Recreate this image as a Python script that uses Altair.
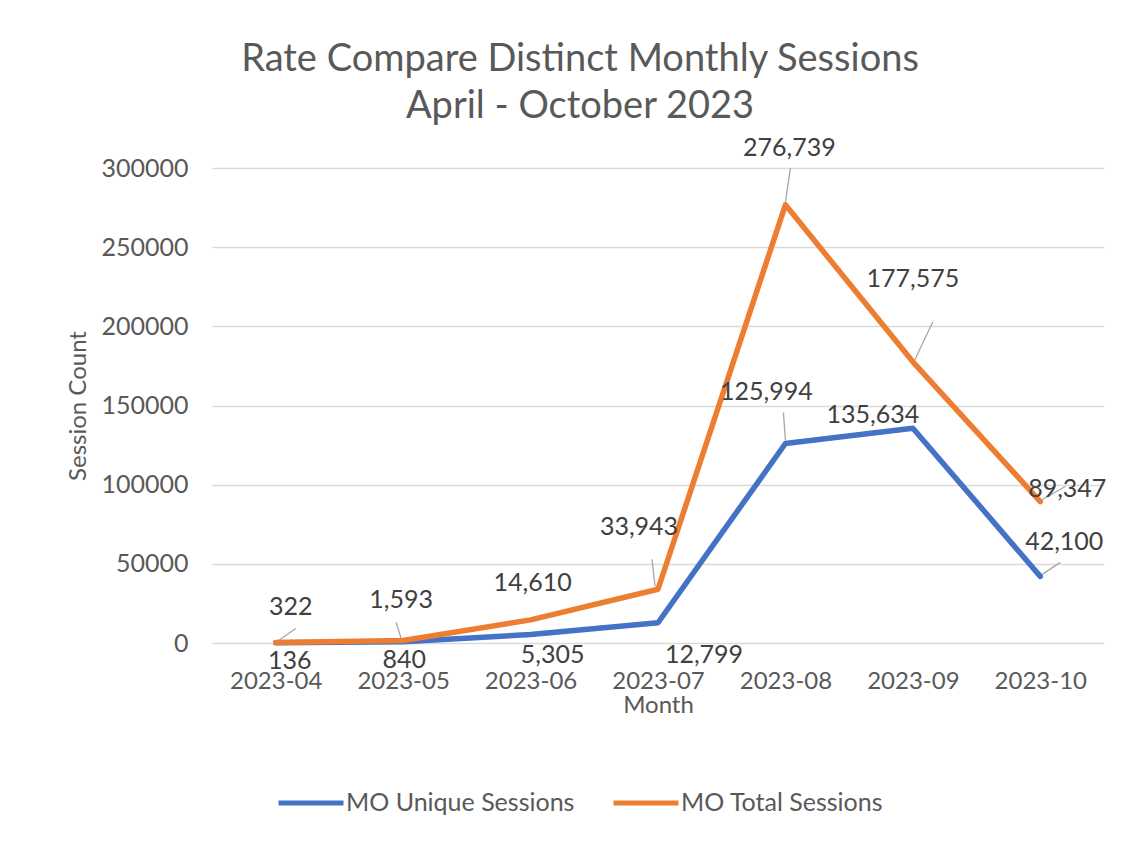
import altair as alt
import pandas as pd

# ---- data ----
months = ["2023-04", "2023-05", "2023-06", "2023-07", "2023-08", "2023-09", "2023-10"]
unique_sessions = [136, 840, 5305, 12799, 125994, 135634, 42100]
total_sessions = [322, 1593, 14610, 33943, 276739, 177575, 89347]
series_names = ["MO Unique Sessions", "MO Total Sessions"]
y_ticks = [0, 50000, 100000, 150000, 200000, 250000, 300000]

# ---- styling: label placement (pixel offsets from each point) ----
unique_label_offsets = [(14, 18), (1, 18), (22, 20), (46, 32), (-19, -52), (-40, -13), (24, -34)]
total_label_offsets = [(15, -35), (-2, -40), (2, -37), (-19, -62), (4, -57), (0, -83), (27, -13)]
# leader lines (x1, y1, x2, y2) pixel offsets from each point
unique_leaders = [None, None, None, None, (0, -3, -2, -31), None, (2, -2, 20, -14)]
total_leaders = [(0, 0, 20, -14), (-2, -2, -7, -18), None, (-3, -3, -6, -30),
                 (0, -3, 5, -37), (2, -2, 20, -40), (2, -2, 25, -15)]

colors = ["#4472C4", "#ED7D31"]
FONT = "Lato"
GRAY = "#595959"

rows = []
for i, m in enumerate(months):
    rows.append({"month": m, "series": series_names[0], "value": unique_sessions[i]})
    rows.append({"month": m, "series": series_names[1], "value": total_sessions[i]})
df = pd.DataFrame(rows)

X_ENC = alt.X(
    "month:O",
    title="Month",
    sort=months,
    scale=alt.Scale(type="point", padding=0.5, domain=months),
    axis=alt.Axis(labelAngle=0, labelFont=FONT, labelFontSize=24, labelColor=GRAY,
                  titleFont=FONT, titleFontSize=24, titleColor=GRAY, titleFontWeight="normal",
                  domain=False, ticks=False, labelPadding=26, titlePadding=0, grid=False),
)
Y_ENC = alt.Y(
    "value:Q",
    title="Session Count",
    scale=alt.Scale(domain=[0, 300000], nice=False),
    axis=alt.Axis(values=y_ticks, format="d", labelFont=FONT, labelFontSize=25, labelColor=GRAY,
                  titleFont=FONT, titleFontSize=24, titleColor=GRAY, titleFontWeight="normal",
                  domain=False, ticks=False, labelPadding=24, titlePadding=10,
                  grid=True, gridColor="#D9D9D9", gridWidth=1.3),
)
COLOR_ENC = alt.Color(
    "series:N",
    scale=alt.Scale(domain=series_names, range=colors),
    legend=alt.Legend(title=None, orient="none", direction="horizontal", legendX=64, legendY=600,
                      symbolType="stroke", symbolSize=4225, symbolStrokeWidth=5,
                      labelFont=FONT, labelFontSize=25, labelColor=GRAY, labelOffset=0,
                      labelLimit=0, columnPadding=28),
)

layers = []

# leader lines
for name, leaders in ((series_names[0], unique_leaders), (series_names[1], total_leaders)):
    for m, ld in zip(months, leaders):
        if ld is None:
            continue
        layers.append(
            alt.Chart(df)
            .transform_filter((alt.datum.series == name) & (alt.datum.month == m))
            .mark_rule(color="#A6A6A6", strokeWidth=1.3,
                       xOffset=ld[0], yOffset=ld[1], x2Offset=ld[2], y2Offset=ld[3])
            .encode(x=X_ENC, x2=alt.X2("month:O"), y=Y_ENC, y2=alt.Y2("value:Q"))
        )

# lines (blue first, orange on top)
for name in series_names:
    layers.append(
        alt.Chart(df)
        .transform_filter(alt.datum.series == name)
        .mark_line(strokeWidth=5.5, strokeJoin="round", strokeCap="round")
        .encode(x=X_ENC, y=Y_ENC, color=COLOR_ENC)
    )

# data labels
for name, offsets in ((series_names[0], unique_label_offsets), (series_names[1], total_label_offsets)):
    for m, (dx, dy) in zip(months, offsets):
        layers.append(
            alt.Chart(df)
            .transform_filter((alt.datum.series == name) & (alt.datum.month == m))
            .mark_text(dx=dx, dy=dy, font=FONT, fontSize=25, color="#404040",
                       align="center", baseline="middle")
            .encode(x=X_ENC, y=Y_ENC, text=alt.Text("value:Q", format=","))
        )

chart = (
    alt.layer(*layers)
    .properties(
        width=892,
        height=475,
        padding={"left": 204, "top": 160, "right": 30, "bottom": 180},
        autosize=alt.AutoSizeParams(type="none"),
        title=alt.TitleParams(
            text=["Rate Compare Distinct Monthly Sessions", "April - October 2023"],
            font=FONT, fontSize=38, fontWeight="normal", color=GRAY,
            lineHeight=47, offset=10, dx=-78, anchor="middle",
        ),
        background="white",
    )
    .configure_view(stroke=None)
)

chart.save("out.html", embed_options={"renderer": "svg", "actions": False})
